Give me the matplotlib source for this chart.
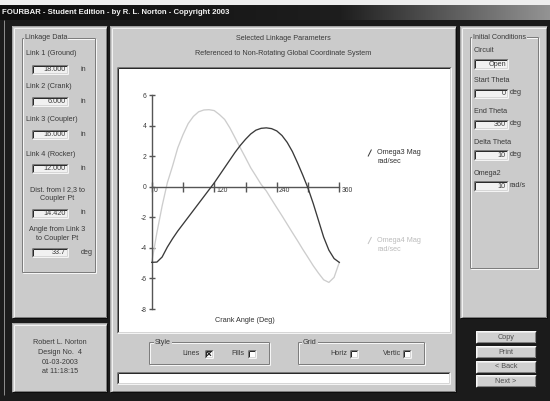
import numpy as np
import matplotlib.pyplot as plt
from matplotlib.patches import Rectangle
from matplotlib.colors import LinearSegmentedColormap
from matplotlib.transforms import ScaledTranslation

plt.rcParams['font.family'] = ['Liberation Sans', 'DejaVu Sans']

# Angular velocity magnitudes (rad/sec) vs crank angle, open circuit, omega2 = 10 rad/s
crank_angle = list(range(0, 361, 10))
omega3 = [-4.95, -4.93, -4.6, -3.95, -3.4, -2.9, -2.45, -2.0, -1.55, -1.1,
          -0.65, -0.2, 0.25, 0.75, 1.25, 1.75, 2.25, 2.7, 3.1, 3.45,
          3.7, 3.82, 3.85, 3.8, 3.65, 3.35, 2.9, 2.3, 1.55, 0.75,
          -0.1, -1.1, -2.2, -3.3, -4.15, -4.7, -4.95]
omega4 = [-4.95, -3.0, -1.26, 0.26, 1.35, 2.54, 3.4, 4.13, 4.6, 4.9,
          5.02, 5.04, 4.98, 4.72, 4.4, 3.85, 3.2, 2.54, 1.9, 1.24,
          0.7, 0.15, -0.28, -0.83, -1.37, -1.9, -2.45, -3.0, -3.54, -4.1,
          -4.63, -5.17, -5.65, -6.09, -6.26, -5.93, -4.95]

x_ticks = [0, 60, 120, 180, 240, 300, 360]
x_tick_labels = ['0', '', '120', '', '240', '', '360']
y_ticks = [6, 4, 2, 0, -2, -4, -6, -8]

link_names = [['Link 1 (Ground)'], ['Link 2 (Crank)'], ['Link 3 (Coupler)'],
              ['Link 4 (Rocker)'], ['Dist. from I 2,3 to', 'Coupler Pt'],
              ['Angle from Link 3', 'to Coupler Pt']]
link_values = ['18.000', '6.000', '16.000', '12.000', '14.420', '33.7']
link_units = ['in', 'in', 'in', 'in', 'in', 'deg']

init_names = ['Circuit', 'Start Theta', 'End Theta', 'Delta Theta', 'Omega2']
init_values = ['Open', '0', '360', '10', '10']
init_units = ['', 'deg', 'deg', 'deg', 'rad/s']

design_info = ['Robert L. Norton', 'Design No.  4', '01-03-2003', 'at 11:18:15']
buttons = ['Copy', 'Print', '< Back', 'Next >']

PANEL = '#cbcbcb'
DARK = '#1b1b1b'
TEXT = '#3a3a3a'
FS = 5.2

fig = plt.figure(figsize=(5.5, 4.01), dpi=100)
fig.patch.set_facecolor(DARK)
ui = fig.add_axes([0, 0, 1, 1])
ui.axis('off')


def box(x0, y0, x1, y1, fc, z=1):
    ui.add_patch(Rectangle((x0, y0), x1 - x0, y1 - y0, facecolor=fc,
                           edgecolor='none', zorder=z))


def line(xs, ys, c, lw=1.0, z=3):
    ui.plot(xs, ys, color=c, lw=lw * 0.72, solid_capstyle='butt', zorder=z)


def bevel(x0, y0, x1, y1, hi, lo, z=3):
    line([x0, x1], [y0, y0], hi, z=z)
    line([x0, x0], [y0, y1], hi, z=z)
    line([x0, x1], [y1, y1], lo, z=z)
    line([x1, x1], [y0, y1], lo, z=z)


def panel(x0, y0, x1, y1):
    box(x0, y0, x1, y1, PANEL)
    bevel(x0, y0, x1, y1, '#a4a4a4', '#0c0c0c')
    bevel(x0 + 1.5, y0 + 1.5, x1 - 1.5, y1 - 1.5, '#f2f2f2', '#7c7c7c')


def sunken(x0, y0, x1, y1, fc):
    box(x0, y0, x1, y1, fc, z=2)
    bevel(x0, y0, x1, y1, '#7a7a7a', '#f4f4f4')
    bevel(x0 + 1, y0 + 1, x1 - 1, y1 - 1, '#2a2a2a', '#d6d6d6')


def groupbox(x0, y0, x1, y1, label, lx):
    bevel(x0 + 1, y0 + 1, x1 + 1, y1 + 1, '#f6f6f6', '#f6f6f6')
    bevel(x0, y0, x1, y1, '#7d7d7d', '#7d7d7d', z=4)
    ui.text(lx, y0, label, fontsize=FS, color=TEXT, va='center', ha='left',
            zorder=5, bbox=dict(fc=PANEL, ec='none', pad=0.6))


def field(x0, y0, x1, y1, value):
    sunken(x0, y0, x1, y1, '#f1f1f1')
    ui.text(x1 - 2.5, (y0 + y1) / 2 + 0.3, value, fontsize=FS, color=TEXT,
            ha='right', va='center', zorder=5)


def label(x, y, s, ha='left', c=TEXT, fs=FS):
    ui.text(x, y, s, fontsize=fs, color=c, ha=ha, va='center', zorder=5)


def checkbox(x0, y0, checked):
    sunken(x0, y0, x0 + 8, y0 + 8.5, '#ffffff')
    if checked:
        line([x0 + 2, x0 + 6], [y0 + 2.2, y0 + 6.3], '#202020', lw=1.2, z=5)
        line([x0 + 2, x0 + 6], [y0 + 6.3, y0 + 2.2], '#202020', lw=1.2, z=5)


def button(x0, y0, x1, y1, text):
    box(x0, y0, x1, y1, '#d0d0d0', z=2)
    bevel(x0, y0, x1, y1, '#f8f8f8', '#202020')
    bevel(x0 + 1, y0 + 1, x1 - 1, y1 - 1, '#e6e6e6', '#808080')
    ui.text((x0 + x1) / 2, (y0 + y1) / 2 + 0.3, text, fontsize=FS,
            color='#505050', ha='center', va='center', zorder=5)


# window chrome
box(0, 0, 550, 5, '#eeeeee', z=0)
tb = LinearSegmentedColormap.from_list('tb', [(0, '#0e0e0e'), (0.62, '#1e1e1e'), (1, '#939393')])
ui.imshow(np.linspace(0, 1, 256)[None, :], extent=(0, 550, 20, 5), cmap=tb,
          aspect='auto', zorder=1)
ui.text(2, 12.5, 'FOURBAR - Student Edition - by R. L. Norton - Copyright 2003',
        fontsize=5.6, fontweight='bold', color='#f2f2f2', ha='left', va='center', zorder=5)
line([4, 4], [20, 395], '#8a8a8a', lw=1, z=1)

# left panels
panel(12, 26, 107, 318)
groupbox(22, 37.5, 95, 272, 'Linkage Data', 25)
label_y = [53.3, 86.7, 119.3, 154.3, 190, 229.3]
field_y = [65, 97, 129.5, 163.5, 208.5, 247.5]
for names, val, unit, ly, fy in zip(link_names, link_values, link_units, label_y, field_y):
    if len(names) == 1:
        label(26, ly, names[0])
    else:
        label(57, ly, names[0], ha='center')
        label(57, ly + 9, names[1], ha='center')
    field(32.3, fy, 68.3, fy + 9, val)
    label(80.5, fy + 4.5, unit)

panel(12, 323, 107, 392)
for i, s in enumerate(design_info):
    label(60, 342.7 + i * 9.7, s, ha='center')

# middle panel
panel(110, 26, 456, 392)
label(283, 39, 'Selected Linkage Parameters', ha='center')
label(283, 53.3, 'Referenced to Non-Rotating Global Coordinate System', ha='center')
sunken(117, 67, 451, 333, '#ffffff')
label(245, 320.5, 'Crank Angle (Deg)', ha='center', c='#333333')

# legend entries
line([368, 371.5], [156.5, 149.5], '#3c3c3c', lw=1.0, z=5)
label(377, 152.7, 'Omega3 Mag', c='#333333')
label(377, 161.7, 'rad/sec', c='#333333')
line([368, 371.5], [244, 237], '#c4c4c4', lw=1.0, z=5)
label(377, 240.7, 'Omega4 Mag', c='#bcbcbc')
label(377, 249.3, 'rad/sec', c='#bcbcbc')

groupbox(149.3, 342, 269.3, 364.3, 'Style', 155)
label(199.5, 353.5, 'Lines', ha='right')
checkbox(205, 349.5, True)
label(244.5, 353.5, 'Fills', ha='right')
checkbox(248.3, 349.5, False)
groupbox(298.3, 342, 424.3, 364.3, 'Grid', 303)
label(347.5, 353.5, 'Horiz', ha='right')
checkbox(350, 349.5, False)
label(401, 353.5, 'Vertic', ha='right')
checkbox(403.3, 349.5, False)
sunken(117, 371.7, 450, 384, '#ffffff')

# right panel
panel(460, 26, 547, 318)
groupbox(470, 37.3, 538.3, 268.3, 'Initial Conditions', 472.7)
name_y = [50.7, 81, 111.7, 142.7, 173.3]
box_y = [59.3, 88.8, 119.5, 150.3, 181.3]
for name, val, unit, ny, by in zip(init_names, init_values, init_units, name_y, box_y):
    label(474, ny, name)
    field(474.3, by, 508.3, by + 9.2, val)
    if unit:
        label(510, by + 4, unit)

# command buttons
btn_y = [331, 346, 360.7, 375]
for text, by in zip(buttons, btn_y):
    button(475.7, by, 535.7, by + 12, text)

ui.set_xlim(0, 550)
ui.set_ylim(401, 0)

# plot of omega3 / omega4
ax = fig.add_axes([151.7 / 550, (401 - 309) / 401, (339.3 - 151.7) / 550, (309 - 95) / 401])
ax.patch.set_visible(False)
ax.set_xlim(0, 360)
ax.set_ylim(-8, 6)
ax.plot(crank_angle, omega3, color='#3a3a3a', lw=0.95, clip_on=False, zorder=3)
ax.plot(crank_angle, omega4, color='#cdcdcd', lw=0.95, clip_on=False, zorder=2)
for s in ['top', 'right']:
    ax.spines[s].set_visible(False)
ax.spines['bottom'].set_position(('data', 0))
for s in ['left', 'bottom']:
    ax.spines[s].set_color('#555555')
    ax.spines[s].set_linewidth(1.0)
ax.set_xticks(x_ticks)
ax.set_xticklabels(x_tick_labels)
ax.set_yticks(y_ticks)
ax.set_yticklabels([str(v) for v in y_ticks])
ax.tick_params(axis='x', direction='inout', length=7, width=1.0, color='#555555',
               labelsize=4.9, labelcolor='#3a3a3a', pad=-3.5)
ax.tick_params(axis='y', direction='inout', length=4, width=1.0, color='#555555',
               labelsize=4.9, labelcolor='#3a3a3a', pad=1.5)
shift = ScaledTranslation(2 / 100, 0, fig.dpi_scale_trans)
for lab in ax.get_xticklabels():
    lab.set_horizontalalignment('left')
    lab.set_transform(lab.get_transform() + shift)

fig.savefig('out.png', dpi=100, facecolor=DARK)
